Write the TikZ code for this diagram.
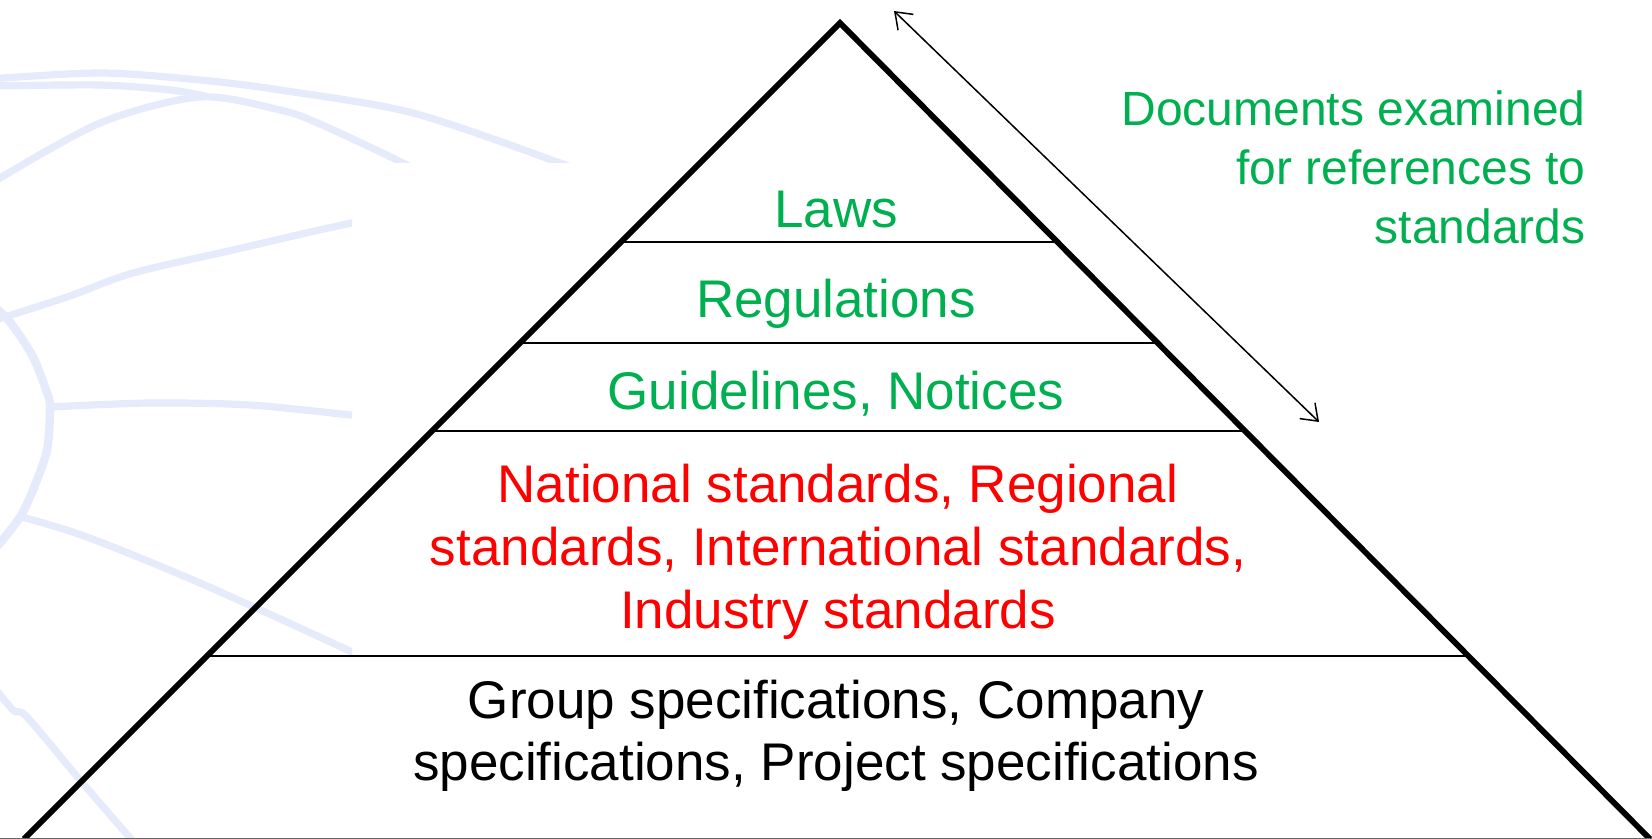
\documentclass[tikz,border=0pt]{standalone}
\usepackage{fontspec}
\setmainfont{Liberation Sans}
\usetikzlibrary{arrows.meta}
\definecolor{pgreen}{RGB}{0,176,80}
\definecolor{pred}{RGB}{255,0,0}
\definecolor{globe}{RGB}{230,235,252}
\begin{document}
\begin{tikzpicture}[x=0.5pt,y=-0.5pt,
  tri/.style={line width=2.9pt, line join=miter},
  divider/.style={line width=1pt},
  globearc/.style={draw=globe, line width=3.6pt},
  lvl/.style={align=center, anchor=base, inner sep=0pt},
  bigtext/.style={font=\fontsize{26.5}{31.5}\selectfont},
  sidetext/.style={font=\fontsize{24}{29.5}\selectfont, align=right, anchor=base east, inner sep=0pt, text=pgreen},
  scope/.style={<->, >={Straight Barb[length=7.5pt,width=11pt]}, line width=0.75pt}]
\useasboundingbox (0,0) rectangle (1652,839);
% background globe watermark
\begin{scope}
\clip (0,0) -- (1652,0) -- (1652,163) -- (352,163) -- (352,839) -- (0,839) -- cycle;
\draw[globearc] plot[smooth] coordinates {(-10,79) (100,73) (200,80) (280,90) (413,113) (560,163) (600,180)};
\draw[globearc] plot[smooth] coordinates {(-10,86) (100,85) (170,90) (205,96)};
\draw[globearc] plot[smooth] coordinates {(-10,184) (100,123) (200,97) (280,110) (320,124) (407,165) (440,185)};
\draw[globearc] plot[smooth] coordinates {(-5,320) (67,297) (133,273) (233,250) (352,223) (420,214)};
\draw[globearc, line width=4.2pt] plot[smooth] coordinates {(-10,303) (10,322) (33,357) (47,393) (50,407) (47,450) (33,490) (20,517) (0,543) (-10,552)};
\draw[globearc] plot[smooth] coordinates {(50,407) (150,403) (250,405) (352,415) (420,420)};
\draw[globearc] plot[smooth] coordinates {(22,517) (87,537) (200,583) (352,652) (420,686)};
\draw[globearc] plot[smooth] coordinates {(-10,682) (13,710) (27,717) (80,780) (130,838) (140,852)};
\end{scope}
% pyramid
\coordinate (apex) at (840,23);
\coordinate (bl) at (24,839);
\coordinate (br) at (1650,839);
\draw[tri] (bl) -- (apex) -- (br);
\draw[line width=1pt, black!60] (0,838.5) -- (1652,838.5);
\path (apex) -- (bl) coordinate[pos=0.2684] (l1) coordinate[pos=0.3919] (l2) coordinate[pos=0.5] (l3) coordinate[pos=0.7757] (l4);
\path (apex) -- (br) coordinate[pos=0.2684] (r1) coordinate[pos=0.3919] (r2) coordinate[pos=0.5] (r3) coordinate[pos=0.7757] (r4);
\draw[divider] (l1) -- (r1);
\draw[divider] (l2) -- (r2);
\draw[divider] (l3) -- (r3);
\draw[divider] (l4) -- (r4);
% labels (base anchor = baseline of the last line)
\node[lvl, bigtext, text=pgreen] (laws) at (836,228) {Laws};
\node[lvl, bigtext, text=pgreen] (regs) at (836,318) {Regulations};
\node[lvl, bigtext, text=pgreen] (guide) at (836,409) {Guidelines, Notices};
\node[lvl, bigtext, text=pred] (stds) at (838,628) {National standards, Regional\\standards, International standards,\\Industry standards};
\node[lvl, font=\fontsize{26.5}{30.75}\selectfont] (specs) at (836,780) {Group specifications, Company\\specifications, Project specifications};
\node[sidetext] (docs) at (1586,244) {Documents examined\\for references to\\standards};
% arrow
\coordinate (a1) at (894,11);
\coordinate (a2) at (1319,422);
\draw[scope] (a1) -- (a2);
\end{tikzpicture}
\end{document}
